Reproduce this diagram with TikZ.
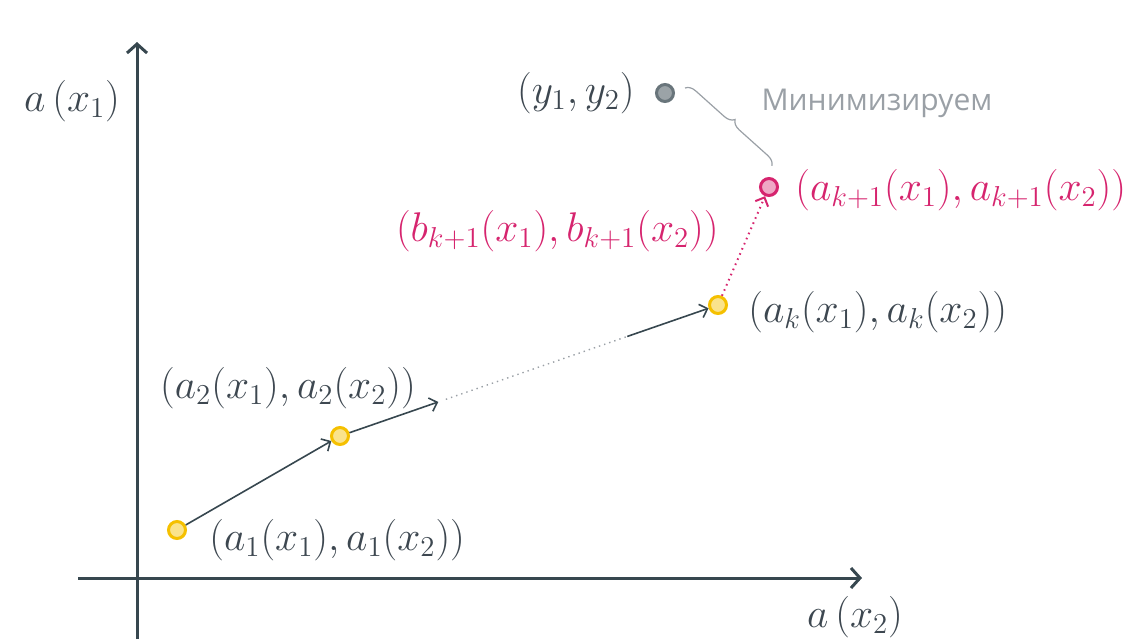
\documentclass[tikz,border=0pt]{standalone}
\usepackage{fontspec}
\newfontfamily\rusfuente{Open Sans}
\usetikzlibrary{arrows.meta, positioning, calc, decorations.pathreplacing}
\definecolor{cgris}{HTML}{37474F}
\definecolor{ctexto}{HTML}{3D4750}
\definecolor{crosa}{HTML}{D6246E}
\definecolor{camarillo}{HTML}{F5C000}
\definecolor{cclaro}{HTML}{9AA0A6}
\tikzset{
  punto/.style 2 args={circle, draw=#1, fill=#2, line width=1.5pt, minimum size=8.5pt, inner sep=0pt},
  eje/.style={-{Straight Barb[length=4.5pt, width=10pt, line width=1.5pt]}, line width=1.5pt, draw=cgris},
  flecha/.style={-{Straight Barb[length=3.5pt, width=7pt]}, line width=0.8pt, draw=cgris},
  etiqueta/.style={text=ctexto, font=\fontsize{20.5}{24}\selectfont, inner sep=1pt},
}

\begin{document}
\begin{tikzpicture}[x=0.5pt, y=-0.5pt]
        \useasboundingbox (0,0) rectangle (1125,639);
        % ejes
        \coordinate (xi) at (78,578); \coordinate (xf) at (862,578);
        \coordinate (yi) at (137,639); \coordinate (yf) at (137,42);
        \draw[eje] (xi)--(xf); \draw[eje] (yi)--(yf);
        \node[etiqueta] (ex1) at (72,101) {$a\,(x_1)$};
        \node[etiqueta] (ex2) at (855,617) {$a\,(x_2)$};
        % puntos
        \node[punto={camarillo}{camarillo!45}] (p1) at (177,530) {};
        \node[punto={camarillo}{camarillo!45}] (p2) at (340,436) {};
        \node[punto={camarillo}{camarillo!45}] (pk) at (718,305) {};
        \node[punto={crosa}{crosa!40}] (pk1) at (769,187) {};
        \node[punto={cgris!75}{cgris!50}] (y) at (665,93) {};
        % etiquetas
        \node[etiqueta, right=10pt of p1, yshift=-5pt] (l1) {$(a_1(x_1), a_1(x_2))$};
        \node[etiqueta, above=7.5pt of p2, xshift=-26pt] (l2) {$(a_2(x_1), a_2(x_2))$};
        \node[etiqueta, right=9pt of pk, yshift=-3.5pt] (lk) {$(a_k(x_1), a_k(x_2))$};
        \node[etiqueta, text=crosa, font=\fontsize{19.5}{23}\selectfont, right=7pt of pk1, yshift=-1.5pt] (lk1) {$(a_{k+1}(x_1), a_{k+1}(x_2))$};
        \node[etiqueta, text=crosa, left=19pt of pk1, yshift=-22pt] (lb) {$(b_{k+1}(x_1), b_{k+1}(x_2))$};
        \node[etiqueta, left=9pt of y] (ly) {$(y_1, y_2)$};
        \node[text=cclaro, font=\rusfuente\fontsize{15}{18}\selectfont] (m) at (877,103) {Минимизируем};
        % pasos
        \coordinate (m1) at ($(p2)!0.26!(pk)$);
        \coordinate (m2) at ($(p2)!0.28!(pk)$);
        \coordinate (m3) at ($(p2)!0.76!(pk)$);
        \draw[flecha] (p1)--(p2); \draw[flecha] (p2)--(m1);
        \draw[cclaro, line width=0.7pt, dotted] (m2)--(m3);
        \draw[flecha] (m3)--(pk);
        \draw[flecha, draw=crosa, dotted, line width=1pt] (pk)--(pk1);
        % llave
        \coordinate (b1) at (685,88); \coordinate (b2) at (772,166);
        \draw[cclaro, line width=0.6pt, decorate, decoration={brace, amplitude=5pt}] (b1)--(b2);
    \end{tikzpicture}
\end{document}
